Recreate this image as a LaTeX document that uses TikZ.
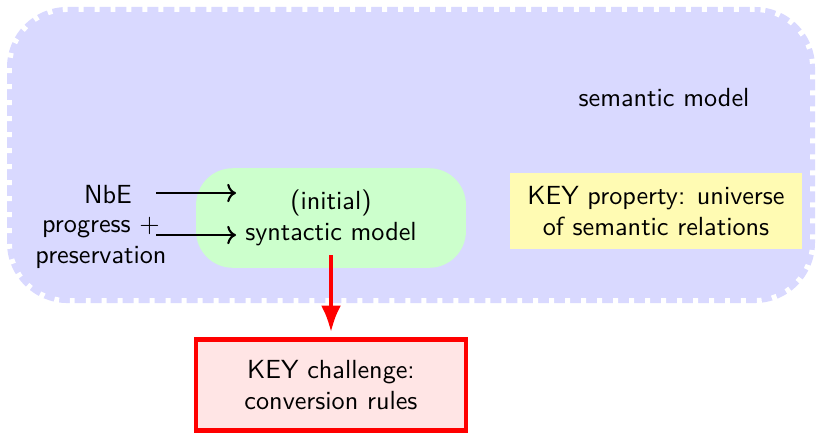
\documentclass[tikz,border=0pt]{standalone}
\usepackage{xcolor}
\usepackage{tikz}
\usepackage{amsmath}
\usetikzlibrary{arrows.meta,positioning,calc}

\begin{document}
\begin{tikzpicture}[
  x=0.3817pt, y=-0.3817pt,
  font=\sffamily,
  universe/.style={fill=blue!15, draw=white, line width=3.8pt,
    dash pattern=on 1.9pt off 4.2pt, rounded corners=23pt,
    minimum width=308.4pt, minimum height=113pt, inner sep=0pt},
  synbg/.style={fill=green!20, rounded corners=14pt,
    minimum width=103pt, minimum height=38pt},
  keyprop/.style={fill=yellow!30, align=center,
    minimum width=111.5pt, minimum height=29pt},
  keychal/.style={draw=red, ultra thick, fill=red!10, align=center,
    minimum width=103pt, minimum height=34.7pt},
  arr/.style={->, thick},
  redarr/.style={-Latex, ultra thick, red, shorten >=2pt}
]
\useasboundingbox (0,0) rectangle (822,432);
\node[universe] (frame) at (411,155) {};
\node (sem) at (664,98) {semantic model};
\node[synbg] (synbox) at (331,218) {};
\node[align=center] (syn) at (synbox) {(initial)\\syntactic model};
\node[keyprop] (prop) at (656,211) {KEY property: universe\\of semantic relations};
\node (nbe) at (108,195) {NbE};
\node[align=center] (pp) at (101,243) {progress $+$\\preservation};
\node[keychal] (chal) at (331,385) {KEY challenge:\\conversion rules};
\coordinate (row1) at (156,193);
\coordinate (row2) at (156,235);
\draw[arr] (row1) -- (row1 -| syn.west);
\draw[arr] (row2) -- (row2 -| syn.west);
\draw[redarr] (syn) -- (chal);
\end{tikzpicture}
\end{document}
